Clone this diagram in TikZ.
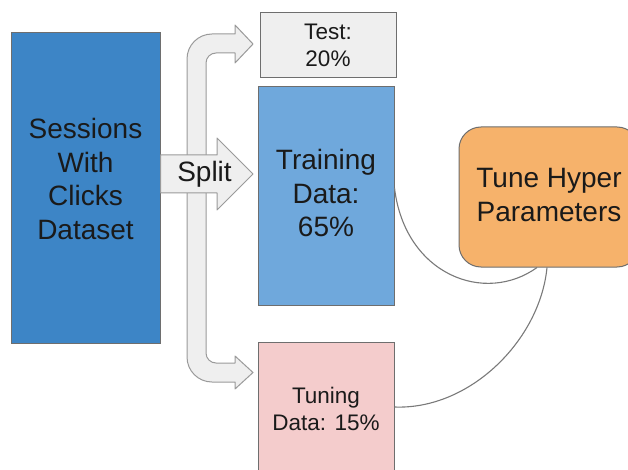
\documentclass[tikz,border=0pt]{standalone}
\usepackage{fontspec}
\setmainfont{Liberation Sans}
\definecolor{sessblue}{HTML}{3D85C6}
\definecolor{trainblue}{HTML}{6FA8DC}
\definecolor{testgray}{HTML}{EFEFEF}
\definecolor{tunepink}{HTML}{F4CCCC}
\definecolor{tuneorange}{HTML}{F6B26B}
\definecolor{edgegray}{HTML}{6E6E6E}
\definecolor{arrowedge}{HTML}{9A9A9A}
\definecolor{linkgray}{HTML}{7A7A7A}
\definecolor{txt}{HTML}{1A1A1A}
\tikzset{
  boxst/.style={draw=edgegray, line width=1pt, rectangle, inner sep=0pt},
  bigtxt/.style={font=\fontsize{28}{33.6}\selectfont, text=txt, align=center, inner sep=0pt},
  smalltxt/.style={font=\fontsize{22.5}{27}\selectfont, text=txt, align=center, inner sep=0pt},
  blockarrow/.style={fill=testgray, draw=arrowedge, line width=1pt, line join=round},
  link/.style={draw=linkgray, line width=1.1pt}
}
\begin{document}
\begin{tikzpicture}[x=1pt,y=-1pt]
\useasboundingbox (0,0) rectangle (628,470);
\fill[white] (0,0) rectangle (628,470);

% boxes
\node[boxst, fill=sessblue, minimum width=149pt, minimum height=310pt] (sess) at (85.5,188) {};
\node[bigtxt] (sesslbl) at ([yshift=9pt]sess.center) {Sessions\\With\\Clicks\\Dataset};

\node[boxst, fill=testgray, minimum width=136pt, minimum height=65pt] (test) at (328,45.5) {};
\node[smalltxt] (testlbl) at ([yshift=0.5pt]test.center) {Test:\\20\%};

\node[boxst, fill=trainblue, minimum width=136pt, minimum height=218pt] (train) at (326,196) {};
\node[bigtxt] (trainlbl) at ([yshift=3pt]train.center) {Training\\Data:\\65\%};

\node[boxst, fill=tunepink, minimum width=136pt, minimum height=150pt] (tuning) at (326,417) {};
\node[smalltxt] (tuninglbl) at ([yshift=8.5pt]tuning.center) {Tuning\\Data: 15\%};

\node[boxst, fill=tuneorange, rounded corners=22pt, minimum width=180pt, minimum height=140pt] (tune) at (549,197) {};
\node[bigtxt] (tunelbl) at ([yshift=2pt]tune.center) {Tune Hyper\\Parameters};

% curved split band (upper and lower arrows)
\draw[blockarrow] (235,34) -- (235,25) -- (253,44) -- (235,63) -- (235,53) -- (216,53)
  .. controls (210.5,53) and (206,57.5) .. (206,63) -- (206,353)
  .. controls (206,358.5) and (210.5,363) .. (216,363) -- (235,363) -- (235,356) -- (253,372.5)
  -- (235,389) -- (235,382) -- (212,382)
  .. controls (198.2,382) and (187,370.8) .. (187,357) -- (187,59)
  .. controls (187,45.2) and (198.2,34) .. (212,34) -- cycle;

% split arrow
\draw[blockarrow] (sess.east |- 0,155) -- (217,155) -- (217,138) -- (253,174) -- (217,210) -- (217,193) -- (sess.east |- 0,193) -- cycle;
\node[bigtxt] (split) at (204.5,174) {Split};

% links
\draw[link] ([yshift=8pt]train.east) .. controls (405,275) and (485,305) .. ([xshift=-12pt]tune.south);
\draw[link] ([xshift=-2pt]tune.south) .. controls (540,340) and (470,410) .. ([yshift=10pt]tuning.east);
\end{tikzpicture}
\end{document}
